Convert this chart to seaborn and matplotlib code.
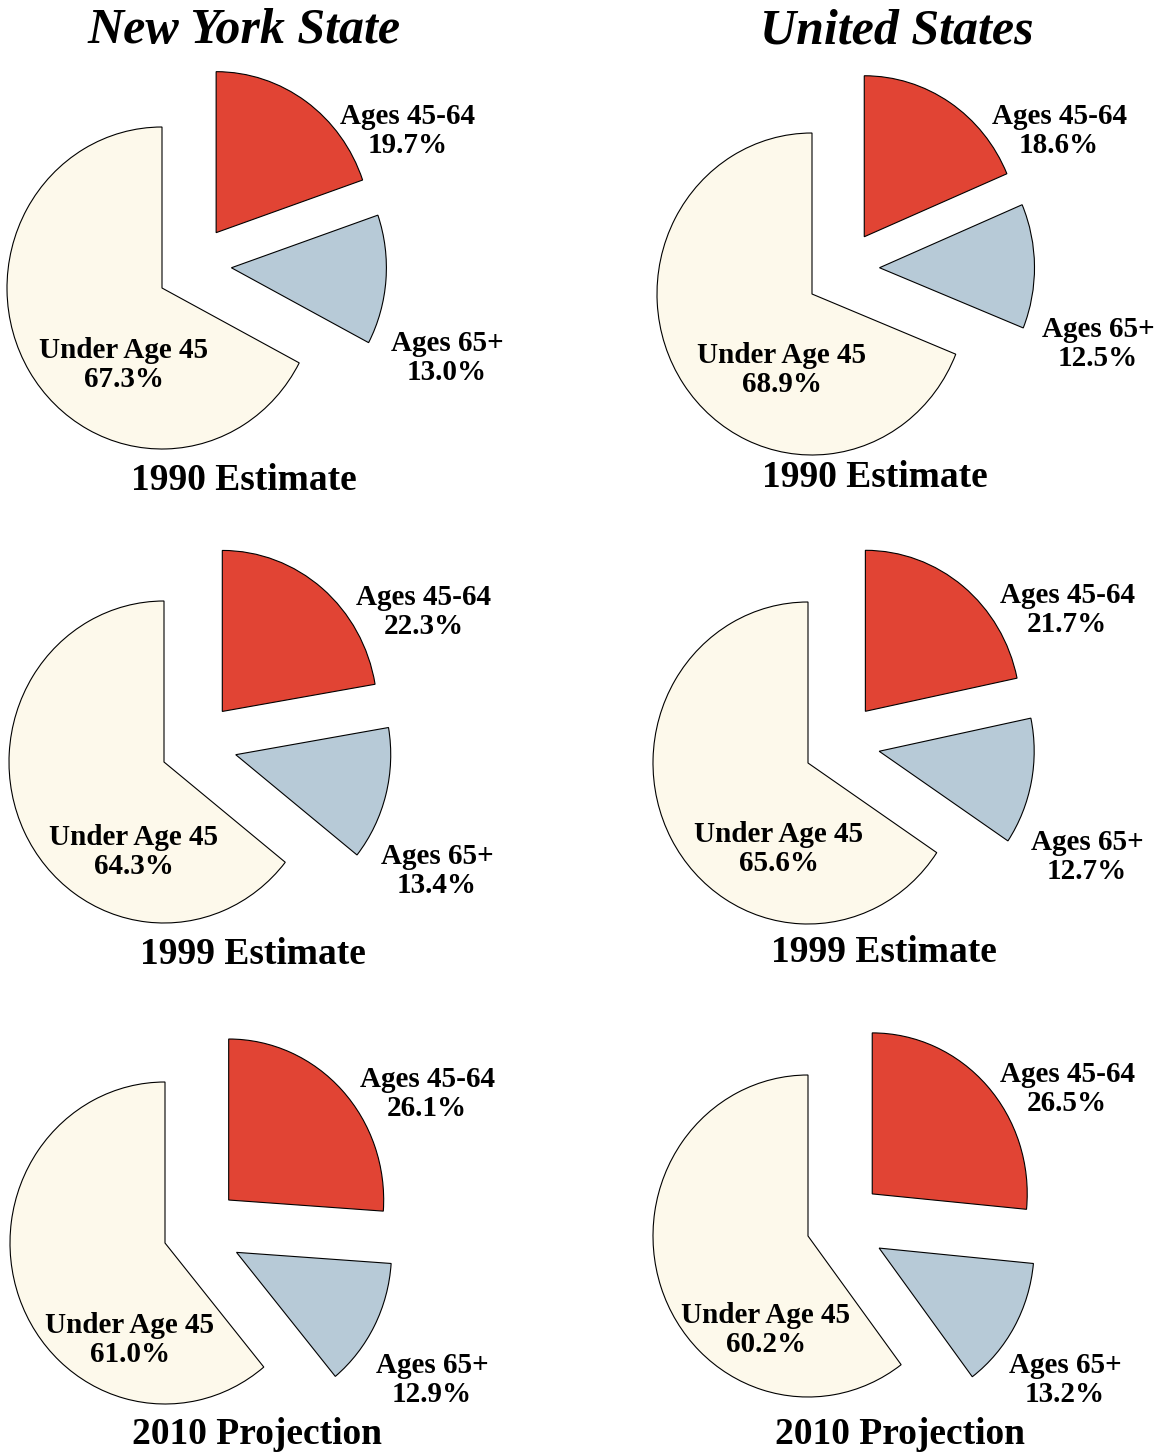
import numpy as np
import matplotlib
matplotlib.use('Agg')
import matplotlib.pyplot as plt
import seaborn as sns

# data
regions = ['New York State', 'United States']
periods = ['1990 Estimate', '1999 Estimate', '2010 Projection']
groups = ['Ages 45-64', 'Ages 65+', 'Under Age 45']
ny_shares = [[19.7, 13.0, 67.3], [22.3, 13.4, 64.3], [26.1, 12.9, 61.0]]
us_shares = [[18.6, 12.5, 68.9], [21.7, 12.7, 65.6], [26.5, 13.2, 60.2]]
colors = ['#E14434', '#B7CAD7', '#FDF9EB']

sns.set_style('white')
plt.rcParams['font.family'] = ['Liberation Serif', 'DejaVu Serif']
plt.rcParams['font.weight'] = 'bold'
plt.rcParams['text.color'] = 'black'

W, H = 1161, 1452
fig = plt.figure(figsize=(W / 100, H / 100), dpi=100)

def fx(px):
    return px / W

def fy(py):
    return 1 - py / H

# layout in pixels: pie centre per panel, and label anchors
rh, rv = 155, 161
centres = {
    (0, 0): (162, 288), (1, 0): (812, 294),
    (0, 1): (164, 762), (1, 1): (808, 763),
    (0, 2): (165, 1243), (1, 2): (808, 1236),
}
label_pos = {
    (0, 0): [(408, 131), (447, 358), (124, 365), (244, 480)],
    (1, 0): [(1059, 131), (1098, 344), (782, 370), (875, 477)],
    (0, 1): [(424, 612), (437, 871), (134, 852), (253, 955)],
    (1, 1): [(1067, 610), (1087, 857), (779, 849), (884, 952)],
    (0, 2): [(427, 1094), (432, 1380), (130, 1340), (257, 1434)],
    (1, 2): [(1067, 1089), (1065, 1380), (766, 1330), (900, 1434)],
}
title_pos = [(244, 31), (897, 31)]

# explode distance and angular bias (deg) per slice
explode_dist = [0.49, 0.465, 0.0]
explode_bias = [-10, 20, 0]

xl, xr, yb, yt = -1.05, 1.75, -1.1, 1.6

for col, shares in enumerate([ny_shares, us_shares]):
    fig.text(fx(title_pos[col][0]), fy(title_pos[col][1]), regions[col],
             ha='center', va='center', fontsize=36, fontweight='bold', fontstyle='italic')
    for row, vals in enumerate(shares):
        cx, cy = centres[(col, row)]
        left = cx + xl * rh
        bottom = cy - yb * rv
        ax = fig.add_axes([fx(left), fy(bottom), (xr - xl) * rh / W, (yt - yb) * rv / H])
        wedges, _ = ax.pie(vals, colors=colors, startangle=90, counterclock=False,
                           radius=1, wedgeprops={'edgecolor': 'black', 'linewidth': 0.8})
        for w, d, b in zip(wedges, explode_dist, explode_bias):
            ang = np.deg2rad((w.theta1 + w.theta2) / 2 + b)
            w.set_center((d * np.cos(ang), d * np.sin(ang)))
        ax.set_aspect('auto')
        ax.set_xlim(xl, xr)
        ax.set_ylim(yb, yt)
        ax.axis('off')

        pos = label_pos[(col, row)]
        for i, g in enumerate(groups):
            fig.text(fx(pos[i][0]), fy(pos[i][1]), f'{g}\n{vals[i]:.1f}%',
                     ha='center', va='center', fontsize=21, fontweight='bold',
                     linespacing=1.12)
        fig.text(fx(pos[3][0]), fy(pos[3][1]), periods[row],
                 ha='center', va='center', fontsize=27, fontweight='bold')

fig.savefig('out.png', dpi=100)
